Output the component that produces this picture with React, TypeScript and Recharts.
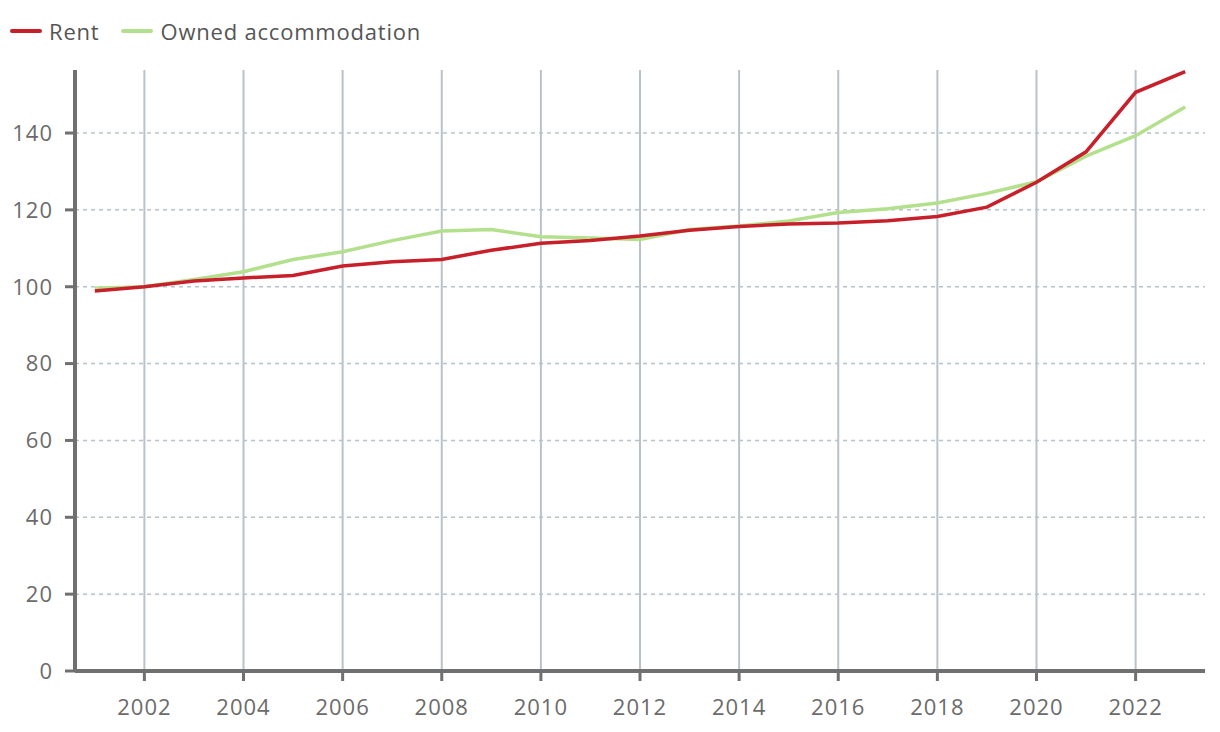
import { LineChart, Line, XAxis, YAxis, ReferenceLine } from "recharts";

const YEARS = [
  2001, 2002, 2003, 2004, 2005, 2006, 2007, 2008, 2009, 2010, 2011, 2012,
  2013, 2014, 2015, 2016, 2017, 2018, 2019, 2020, 2021, 2022, 2023,
];

const RENT = [
  98.9, 100, 101.5, 102.3, 102.9, 105.4, 106.5, 107.1, 109.5, 111.3, 112.0, 113.2,
  114.7, 115.7, 116.3, 116.6, 117.2, 118.3, 120.7, 127.2, 135.1, 150.6, 156.0,
];

const OWNED = [
  99.6, 100, 101.9, 103.9, 107.1, 109.1, 112.0, 114.5, 114.9, 113.0, 112.7, 112.3,
  114.9, 115.8, 117.1, 119.3, 120.3, 121.8, 124.3, 127.3, 134.0, 139.3, 146.8,
];

const X_TICKS = [2002, 2004, 2006, 2008, 2010, 2012, 2014, 2016, 2018, 2020, 2022];
const Y_TICKS = [0, 20, 40, 60, 80, 100, 120, 140];

const RED = "#c8202a";
const GREEN = "#b3e08c";
const AXIS = "#707070";
const GRID = "#b8c2ca";
const FONT = "'Open Sans', sans-serif";

const data = YEARS.map((year, i) => ({ year, rent: RENT[i], owned: OWNED[i] }));

function LegendItem({ color, label }: { color: string; label: string }) {
  return (
    <div style={{ display: "flex", alignItems: "center", marginRight: 22 }}>
      <span style={{ width: 32, height: 4, borderRadius: 2, background: color, marginRight: 7 }} />
      <span style={{ fontSize: 22, color: "#555", letterSpacing: 0.8 }}>{label}</span>
    </div>
  );
}

export default function App() {
  return (
    <div style={{ position: "absolute", left: 0, top: 0, width: 1220, height: 732, background: "#fff", fontFamily: FONT }}>
      <div style={{ position: "absolute", left: 10, top: 16, display: "flex" }}>
        <LegendItem color={RED} label="Rent" />
        <LegendItem color={GREEN} label="Owned accommodation" />
      </div>
      <LineChart width={1220} height={732} data={data} margin={{ top: 70, right: 15, left: 0, bottom: 0 }}>
        {X_TICKS.map((x) => (
          <ReferenceLine key={"x" + x} x={x} stroke={GRID} strokeWidth={2} />
        ))}
        {Y_TICKS.filter((y) => y > 0).map((y) => (
          <ReferenceLine key={"y" + y} y={y} stroke={GRID} strokeWidth={1.5} strokeDasharray="4 4" />
        ))}
        <XAxis
          dataKey="year"
          type="number"
          domain={[2000.6, 2023.4]}
          ticks={X_TICKS}
          height={61}
          axisLine={{ stroke: AXIS, strokeWidth: 4 }}
          tickLine={{ stroke: AXIS, strokeWidth: 3 }}
          tickSize={10}
          tickMargin={18}
          tick={{ fill: "#6b6b6b", fontSize: 22, fontFamily: FONT, letterSpacing: 1 }}
        />
        <YAxis
          domain={[0, 156.4]}
          ticks={Y_TICKS}
          width={75}
          axisLine={{ stroke: AXIS, strokeWidth: 4 }}
          tickLine={{ stroke: AXIS, strokeWidth: 3 }}
          tickSize={10}
          tickMargin={12}
          tick={{ fill: "#6b6b6b", fontSize: 22, fontFamily: FONT, letterSpacing: 1 }}
        />
        <Line type="linear" dataKey="owned" stroke={GREEN} strokeWidth={3.5} dot={false} isAnimationActive={false} />
        <Line type="linear" dataKey="rent" stroke={RED} strokeWidth={3.5} dot={false} isAnimationActive={false} />
      </LineChart>
    </div>
  );
}
